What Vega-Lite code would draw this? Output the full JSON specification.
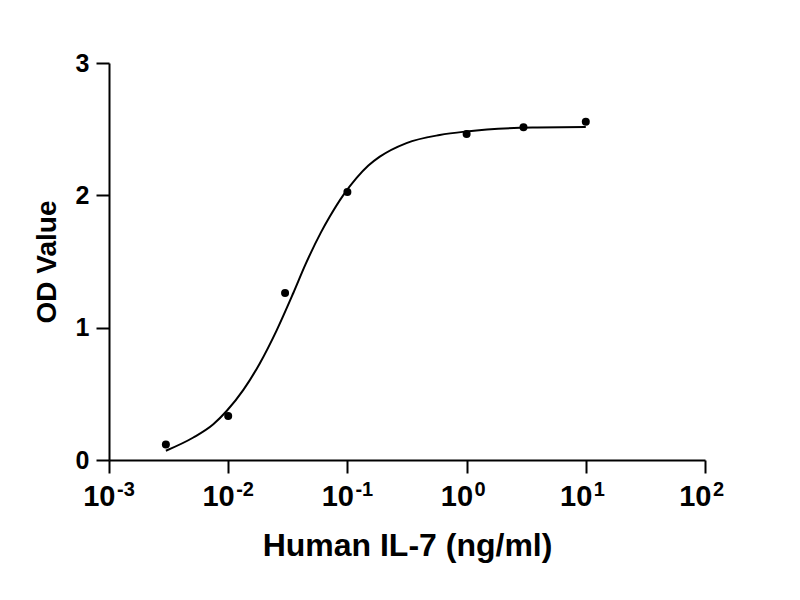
{
  "$schema": "https://vega.github.io/schema/vega-lite/v6.json",
  "description": "Dose-response curve of Human IL-7 versus OD value.",
  "width": 596,
  "height": 397,
  "autosize": {"type": "none"},
  "padding": {"left": 109, "top": 63, "right": 95, "bottom": 140},
  "background": "white",
  "datasets": {
    "points": [
      {"conc": 0.003, "od": 0.118},
      {"conc": 0.01, "od": 0.333},
      {"conc": 0.03, "od": 1.262},
      {"conc": 0.1, "od": 2.026},
      {"conc": 1, "od": 2.464},
      {"conc": 3, "od": 2.514},
      {"conc": 10, "od": 2.556}
    ],
    "curve": [
      {"conc": 0.003, "od": 0.07},
      {"conc": 0.0051, "od": 0.17},
      {"conc": 0.0075, "od": 0.27},
      {"conc": 0.0097, "od": 0.37},
      {"conc": 0.0134, "od": 0.53},
      {"conc": 0.0184, "od": 0.73},
      {"conc": 0.0255, "od": 0.98},
      {"conc": 0.0351, "od": 1.26},
      {"conc": 0.0446, "od": 1.48},
      {"conc": 0.06, "od": 1.72},
      {"conc": 0.0712, "od": 1.84},
      {"conc": 0.0921, "od": 2.0},
      {"conc": 0.119, "od": 2.13},
      {"conc": 0.15, "od": 2.225},
      {"conc": 0.187, "od": 2.292},
      {"conc": 0.313, "od": 2.395},
      {"conc": 0.595, "od": 2.456},
      {"conc": 1.0, "od": 2.483},
      {"conc": 3.58, "od": 2.512},
      {"conc": 10, "od": 2.516}
    ],
    "exponents": [
      {"conc": 0.001, "exp": "-3"},
      {"conc": 0.01, "exp": "-2"},
      {"conc": 0.1, "exp": "-1"},
      {"conc": 1, "exp": "0"},
      {"conc": 10, "exp": "1"},
      {"conc": 100, "exp": "2"}
    ]
  },
  "layer": [
    {
      "data": {"name": "curve"},
      "mark": {"type": "line", "color": "black", "strokeWidth": 2, "interpolate": "monotone"},
      "encoding": {
        "x": {"field": "conc", "type": "quantitative"},
        "y": {"field": "od", "type": "quantitative"}
      }
    },
    {
      "data": {"name": "points"},
      "mark": {"type": "circle", "color": "black", "opacity": 1, "size": 64},
      "encoding": {
        "x": {
          "field": "conc",
          "type": "quantitative",
          "title": "Human IL-7 (ng/ml)",
          "scale": {"type": "log", "domain": [0.001, 100], "nice": false},
          "axis": {
            "values": [0.001, 0.01, 0.1, 1, 10, 100],
            "labelExpr": "'10'",
            "labelAlign": "right",
            "labelOffset": 6,
            "labelFontSize": 29,
            "labelPadding": 9,
            "titleFontSize": 32,
            "titlePadding": 19
          }
        },
        "y": {
          "field": "od",
          "type": "quantitative",
          "title": "OD Value",
          "scale": {"domain": [0, 3], "nice": false},
          "axis": {
            "values": [0, 1, 2, 3],
            "format": "d",
            "labelFontSize": 25,
            "labelPadding": 7,
            "titleFontSize": 28,
            "titlePadding": 14
          }
        }
      }
    },
    {
      "data": {"name": "exponents"},
      "mark": {
        "type": "text",
        "align": "left",
        "baseline": "top",
        "dx": 8,
        "dy": 20,
        "fontSize": 20,
        "fontWeight": "bold",
        "font": "Liberation Sans",
        "color": "black"
      },
      "encoding": {
        "x": {"field": "conc", "type": "quantitative"},
        "y": {"datum": 0},
        "text": {"field": "exp"}
      }
    }
  ],
  "config": {
    "font": "Liberation Sans",
    "view": {"stroke": null},
    "axis": {
      "grid": false,
      "domainColor": "black",
      "domainWidth": 2,
      "tickColor": "black",
      "tickWidth": 2,
      "tickSize": 13,
      "labelColor": "black",
      "labelFontWeight": "bold",
      "labelFont": "Liberation Sans",
      "titleColor": "black",
      "titleFontWeight": "bold",
      "titleFont": "Liberation Sans"
    }
  }
}
